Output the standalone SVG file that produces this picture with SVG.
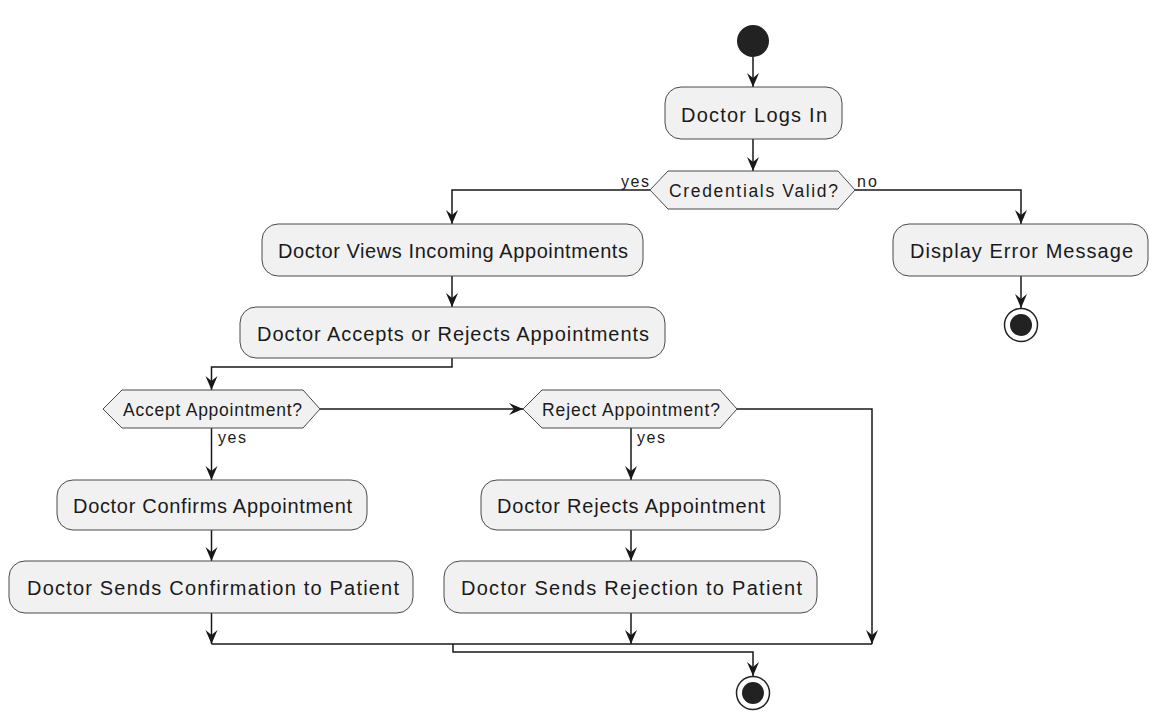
<svg xmlns="http://www.w3.org/2000/svg" width="1156" height="720" viewBox="0 0 1156 720">
  <style>
    .act { fill: #F1F1F1; stroke: #4a4a4a; stroke-width: 1; }
    .dec { fill: #F1F1F1; stroke: #4a4a4a; stroke-width: 1; }
    .t { font-family: "Liberation Sans", Arial, sans-serif; font-size: 20px; fill: #1a1a1a; }
    .td { font-family: "Liberation Sans", Arial, sans-serif; font-size: 17.5px; fill: #1a1a1a; }
    .tl { font-family: "Liberation Sans", Arial, sans-serif; font-size: 16px; fill: #1a1a1a; }
    .flow { fill: none; stroke: #181818; stroke-width: 1.5; }
    .arr { fill: none; stroke: #181818; stroke-width: 1.5; marker-end: url(#head); }
  </style>
  <defs>
    <marker id="head" markerUnits="userSpaceOnUse" viewBox="-15 -7 16 14" markerWidth="16" markerHeight="14" refX="0" refY="0" orient="auto">
      <path d="M0,0 L-14,-6 L-9,0 L-14,6 Z" fill="#181818"/>
    </marker>
  </defs>
  <rect width="1156" height="720" fill="#ffffff"/>

  <!-- connectors -->
  <g id="connectors">
    <path class="arr" d="M753,57 V87"/>
    <path class="arr" d="M753,139 V171"/>
    <path class="arr" d="M650,190 H452 V224"/>
    <path class="arr" d="M855,190 H1021 V224"/>
    <path class="arr" d="M1021,276 V308"/>
    <path class="arr" d="M452,276 V307"/>
    <path class="arr" d="M452,358 V367 H211.5 V390"/>
    <path class="arr" d="M320,409 H523"/>
    <path class="arr" d="M211.5,428 V480"/>
    <path class="arr" d="M211.5,530 V561"/>
    <path class="arr" d="M211.5,613 V644"/>
    <path class="arr" d="M631,428 V480"/>
    <path class="arr" d="M631,530 V561"/>
    <path class="arr" d="M631,613 V644"/>
    <path class="arr" d="M737,409 H872 V644"/>
    <path class="flow" d="M211.5,644 H872"/>
    <path class="arr" d="M453,644 V652 H753 V676"/>
    <text class="tl" x="621" y="187" textLength="28" lengthAdjust="spacing">yes</text>
    <text class="tl" x="857" y="187" textLength="20" lengthAdjust="spacing">no</text>
    <text class="tl" x="218" y="443" textLength="28" lengthAdjust="spacing">yes</text>
    <text class="tl" x="637" y="443" textLength="28" lengthAdjust="spacing">yes</text>
  </g>

  <!-- start -->
  <g id="start">
    <circle cx="753" cy="41" r="16" fill="#222222"/>
  </g>

  <g id="doctor-logs-in">
    <rect class="act" x="665" y="87" width="177" height="52" rx="16"/>
    <text class="t" x="681" y="121.5" textLength="146" lengthAdjust="spacing">Doctor Logs In</text>
  </g>

  <g id="credentials-valid">
    <polygon class="dec" points="650,190 668,171 838,171 855,190 838,209 668,209"/>
    <text class="td" x="669" y="196.5" textLength="169" lengthAdjust="spacing">Credentials Valid?</text>
  </g>

  <g id="views-appointments">
    <rect class="act" x="262" y="224" width="381" height="52" rx="16"/>
    <text class="t" x="278" y="258" textLength="350" lengthAdjust="spacing">Doctor Views Incoming Appointments</text>
  </g>

  <g id="display-error">
    <rect class="act" x="893" y="224" width="255" height="52" rx="16"/>
    <text class="t" x="910" y="258" textLength="223" lengthAdjust="spacing">Display Error Message</text>
  </g>

  <g id="end-error">
    <circle cx="1021" cy="325" r="16.5" fill="#ffffff" stroke="#222222" stroke-width="1.5"/>
    <circle cx="1021" cy="325" r="11" fill="#222222"/>
  </g>

  <g id="accepts-or-rejects">
    <rect class="act" x="240" y="307" width="425" height="51" rx="16"/>
    <text class="t" x="257" y="340.5" textLength="392" lengthAdjust="spacing">Doctor Accepts or Rejects Appointments</text>
  </g>

  <g id="accept-appointment">
    <polygon class="dec" points="103,409 122,390 303,390 320,409 303,428 122,428"/>
    <text class="td" x="123" y="415.5" textLength="179" lengthAdjust="spacing">Accept Appointment?</text>
  </g>

  <g id="reject-appointment">
    <polygon class="dec" points="523,409 542,390 720,390 737,409 720,428 542,428"/>
    <text class="td" x="542" y="415.5" textLength="178" lengthAdjust="spacing">Reject Appointment?</text>
  </g>

  <g id="confirms-appointment">
    <rect class="act" x="57" y="480" width="310" height="50" rx="16"/>
    <text class="t" x="73" y="512.5" textLength="279" lengthAdjust="spacing">Doctor Confirms Appointment</text>
  </g>

  <g id="rejects-appointment">
    <rect class="act" x="481" y="480" width="299" height="50" rx="16"/>
    <text class="t" x="497" y="512.5" textLength="268" lengthAdjust="spacing">Doctor Rejects Appointment</text>
  </g>

  <g id="sends-confirmation">
    <rect class="act" x="9" y="561" width="404" height="52" rx="16"/>
    <text class="t" x="27" y="595" textLength="372" lengthAdjust="spacing">Doctor Sends Confirmation to Patient</text>
  </g>

  <g id="sends-rejection">
    <rect class="act" x="444" y="561" width="373" height="52" rx="16"/>
    <text class="t" x="461" y="595" textLength="341" lengthAdjust="spacing">Doctor Sends Rejection to Patient</text>
  </g>

  <g id="end">
    <circle cx="753" cy="693" r="16.5" fill="#ffffff" stroke="#222222" stroke-width="1.5"/>
    <circle cx="753" cy="693" r="11" fill="#222222"/>
  </g>
</svg>
